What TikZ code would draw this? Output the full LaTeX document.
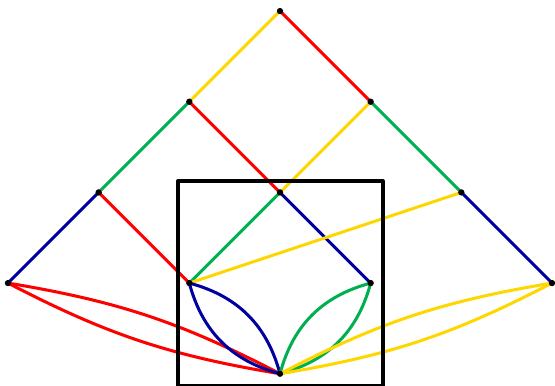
\documentclass[tikz,border=0pt]{standalone}
\usepackage{tikz}
\usepackage{xcolor}
\definecolor{lred}{RGB}{255,0,0}
\definecolor{lgold}{RGB}{255,215,0}
\definecolor{lnavy}{RGB}{0,0,160}
\definecolor{lgreen}{RGB}{0,176,80}

\begin{document}
\begin{tikzpicture}[line cap=round,line join=round,
    redl/.style={draw=lred,line width=0.95pt},
    goldl/.style={draw=lgold,line width=0.95pt},
    navyl/.style={draw=lnavy,line width=0.95pt},
    greenl/.style={draw=lgreen,line width=0.95pt},
    dot/.style={circle,fill=black,inner sep=0pt,minimum size=0.7mm}]
  \useasboundingbox (-0.088,-0.135) rectangle (6.033,4.122);
  \coordinate (A) at (3,4);
  \coordinate (B) at (2,3);
  \coordinate (C) at (4,3);
  \coordinate (D) at (1,2);
  \coordinate (E) at (3,2);
  \coordinate (F) at (5,2);
  \coordinate (G) at (0,1);
  \coordinate (H) at (2,1);
  \coordinate (I) at (4,1);
  \coordinate (J) at (6,1);
  \coordinate (K) at (3,0);
  % straight edges
  \draw[goldl] (A)--(B);
  \draw[redl] (A)--(C);
  \draw[greenl] (B)--(D);
  \draw[redl] (B)--(E);
  \draw[goldl] (C)--(E);
  \draw[greenl] (C)--(F);
  \draw[navyl] (D)--(G);
  \draw[redl] (D)--(H);
  \draw[greenl] (E)--(H);
  \draw[navyl] (E)--(I);
  \draw[navyl] (F)--(J);
  \draw[goldl] (F)--(H);
  % curved pairs into K
  \draw[redl] (G) to[bend left=9] (K);
  \draw[redl] (G) to[bend right=9] (K);
  \draw[navyl] (H) to[bend left=30] (K);
  \draw[navyl] (H) to[bend right=30] (K);
  \draw[greenl] (I) to[bend left=30] (K);
  \draw[greenl] (I) to[bend right=30] (K);
  \draw[goldl] (J) to[bend left=9] (K);
  \draw[goldl] (J) to[bend right=9] (K);
  \draw[line width=1.1pt] (1.874,-0.13) rectangle (4.134,2.128);
  \foreach \p in {A,B,C,D,E,F,G,H,I,J,K}
    \node[dot] at (\p) {};
\end{tikzpicture}
\end{document}
